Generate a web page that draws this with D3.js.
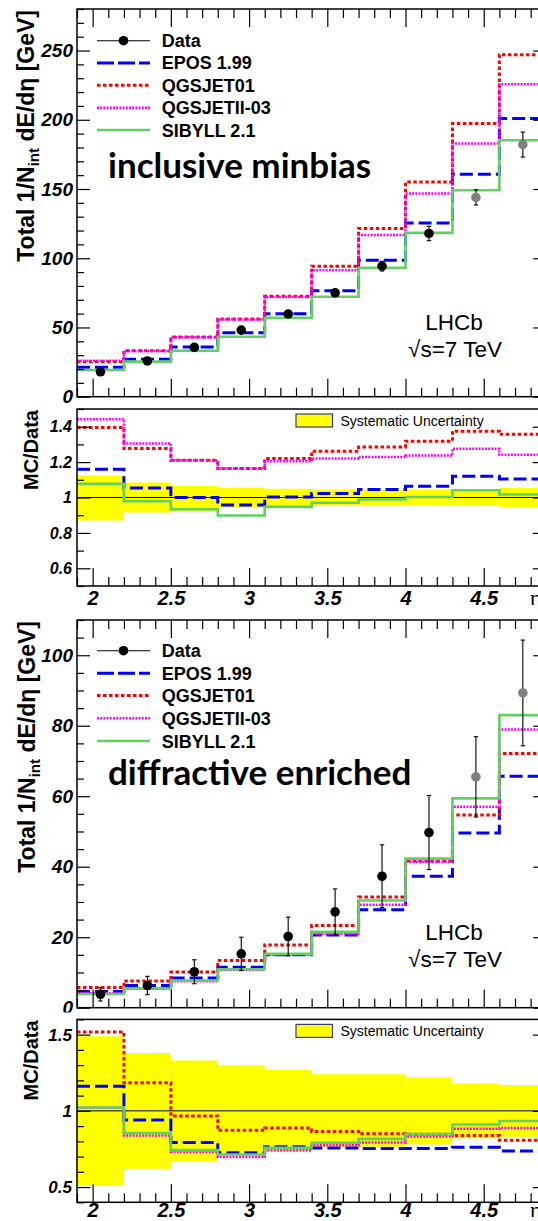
<!DOCTYPE html>
<html>
<head>
<meta charset="utf-8">
<script src="https://cdn.jsdelivr.net/npm/d3@7"></script>
<style>
  body { margin: 0; background: #fff; }
  svg { display: block; }
</style>
</head>
<body>
<svg id="chart" width="538" height="1221"></svg>
<script>
// ---- pseudorapidity binning ----
const binEdges = [1.9, 2.2, 2.5, 2.8, 3.1, 3.4, 3.7, 4.0, 4.3, 4.6, 4.9];
const binCentres = [2.05, 2.35, 2.65, 2.95, 3.25, 3.55, 3.85, 4.15, 4.45, 4.75];

// ---- inclusive minimum bias: energy flow [GeV] ----
const incData    = [18.0, 25.8, 35.6, 48.1, 59.7, 75.0, 94.3, 117.9, 143.9, 182.1];
const incDataErr = [1.2, 1.4, 1.7, 2.0, 2.2, 2.6, 3.5, 5.2, 5.5, 9.0];
const incEPOS    = [21.2, 27.0, 35.9, 46.2, 59.9, 76.5, 98.6, 125.5, 160.7, 200.9];
const incQGS01   = [25.3, 33.2, 43.1, 56.1, 72.5, 94.3, 121.5, 155.1, 197.3, 247.0];
const incQGSII   = [26.0, 33.0, 43.0, 55.8, 72.0, 91.4, 116.7, 146.8, 182.8, 225.6];
const incSIBYLL  = [19.3, 25.3, 33.2, 43.3, 57.0, 72.2, 93.1, 118.3, 149.1, 185.2];

// ---- inclusive minimum bias: MC/Data ----
const incRatioEPOS   = [1.160, 1.053, 1.000, 0.957, 1.003, 1.023, 1.045, 1.064, 1.120, 1.105];
const incRatioQGS01  = [1.395, 1.277, 1.210, 1.164, 1.220, 1.262, 1.286, 1.318, 1.375, 1.358];
const incRatioQGSII  = [1.442, 1.305, 1.210, 1.164, 1.205, 1.220, 1.229, 1.237, 1.275, 1.241];
const incRatioSIBYLL = [1.077, 0.979, 0.934, 0.898, 0.947, 0.970, 0.989, 1.003, 1.041, 1.017];
const incSystLo      = [0.870, 0.915, 0.920, 0.940, 0.950, 0.955, 0.955, 0.955, 0.955, 0.945];
const incSystHi      = [1.125, 1.085, 1.065, 1.055, 1.050, 1.045, 1.045, 1.045, 1.045, 1.055];

// ---- diffractive enriched: energy flow [GeV] ----
const difData    = [3.8, 6.3, 10.2, 15.3, 20.2, 27.2, 37.3, 49.7, 65.5, 89.3];
const difDataErr = [1.9, 2.6, 3.4, 4.7, 5.5, 6.5, 8.9, 10.5, 11.4, 15.0];
const difEPOS    = [4.6, 6.3, 8.4, 11.5, 15.0, 20.6, 27.8, 37.3, 49.6, 65.7];
const difQGS01   = [5.7, 7.6, 10.1, 13.4, 17.8, 23.3, 31.4, 41.6, 54.7, 72.1];
const difQGSII   = [4.1, 5.4, 7.5, 10.7, 15.0, 21.0, 29.2, 41.4, 57.0, 78.9];
const difSIBYLL  = [3.9, 5.5, 7.7, 10.9, 15.3, 21.5, 30.4, 42.3, 59.4, 83.0];

// ---- diffractive enriched: MC/Data ----
const difRatioEPOS   = [1.162, 0.940, 0.793, 0.725, 0.764, 0.757, 0.753, 0.753, 0.761, 0.737];
const difRatioQGS01  = [1.517, 1.185, 0.967, 0.872, 0.888, 0.865, 0.849, 0.847, 0.838, 0.807];
const difRatioQGSII  = [1.020, 0.838, 0.730, 0.697, 0.742, 0.775, 0.793, 0.832, 0.883, 0.888];
const difRatioSIBYLL = [1.022, 0.854, 0.742, 0.714, 0.757, 0.791, 0.816, 0.847, 0.910, 0.933];
const difSystLo      = [0.510, 0.620, 0.670, 0.700, 0.730, 0.760, 0.760, 0.780, 0.820, 0.830];
const difSystHi      = [1.490, 1.380, 1.330, 1.300, 1.270, 1.240, 1.240, 1.220, 1.180, 1.170];

// ---- legend / axis text ----
const modelNames = ["EPOS 1.99", "QGSJET01", "QGSJETII-03", "SIBYLL 2.1"];
const xTickLabels = [2, 2.5, 3, 3.5, 4, 4.5];
const incYTicks = [0, 50, 100, 150, 200, 250];
const difYTicks = [0, 20, 40, 60, 80, 100];
const incRatioTicks = [0.6, 0.8, 1, 1.2, 1.4];
const difRatioTicks = [0.5, 1, 1.5];

// ---------------------------------------------------------------
const FONT = "'Liberation Sans', Arial, Helvetica, sans-serif";
const svg = d3.select("#chart");
const x = d3.scaleLinear().domain([1.9, 4.9]).range([77, 546.3]);
const X0 = x.range()[0], X1 = x.range()[1];

const styles = [
  { color: "#0000ff", width: 3,   dash: "13,5" },
  { color: "#ff0000", width: 3,   dash: "3.5,2.5" },
  { color: "#ff00ff", width: 2.5, dash: "2,1.2" },
  { color: "#62d162", width: 2.6, dash: null }
];

const xMinor = d3.range(19, 50).map(d => d / 10).filter(v => !xTickLabels.some(m => Math.abs(m - v) < 1e-6));

function styleAxis(g) {
  g.select(".domain").remove();
  g.selectAll(".tick line").attr("stroke", "#000").attr("stroke-width", 1.2);
  return g;
}

function yAxes(g, y, majors, minors, fontSize, majLen, minLen, pad) {
  const fmt = d3.format("~g");
  const left = g.append("g").attr("transform", `translate(${X0},0)`)
    .call(d3.axisLeft(y).tickValues(majors).tickSizeInner(-majLen).tickSizeOuter(0).tickPadding(pad).tickFormat(fmt));
  styleAxis(left);
  left.attr("font-family", FONT).attr("font-size", fontSize);
  left.selectAll("text").attr("font-weight", "bold").attr("font-style", "italic").attr("fill", "#000");
  styleAxis(g.append("g").attr("transform", `translate(${X0},0)`)
    .call(d3.axisLeft(y).tickValues(minors).tickSizeInner(-minLen).tickSizeOuter(0).tickFormat("")));
  styleAxis(g.append("g").attr("transform", `translate(${X1},0)`)
    .call(d3.axisRight(y).tickValues(majors).tickSizeInner(-majLen).tickSizeOuter(0).tickFormat("")));
  styleAxis(g.append("g").attr("transform", `translate(${X1},0)`)
    .call(d3.axisRight(y).tickValues(minors).tickSizeInner(-minLen).tickSizeOuter(0).tickFormat("")));
}

function xAxes(g, top, bottom, withTop, withLabels, labelBaseline) {
  const bot = g.append("g").attr("transform", `translate(0,${bottom})`)
    .call(d3.axisBottom(x).tickValues(xTickLabels).tickSizeInner(-18).tickSizeOuter(0)
      .tickFormat(withLabels ? d3.format("~g") : ""));
  styleAxis(bot);
  if (withLabels) {
    bot.attr("font-family", FONT).attr("font-size", 20);
    bot.selectAll("text").attr("font-weight", "bold").attr("font-style", "italic")
      .attr("fill", "#000").attr("dy", null).attr("y", labelBaseline - bottom);
  }
  styleAxis(g.append("g").attr("transform", `translate(0,${bottom})`)
    .call(d3.axisBottom(x).tickValues(xMinor).tickSizeInner(-9).tickSizeOuter(0).tickFormat("")));
  if (withTop) {
    styleAxis(g.append("g").attr("transform", `translate(0,${top})`)
      .call(d3.axisTop(x).tickValues(xTickLabels).tickSizeInner(-18).tickSizeOuter(0).tickFormat("")));
    styleAxis(g.append("g").attr("transform", `translate(0,${top})`)
      .call(d3.axisTop(x).tickValues(xMinor).tickSizeInner(-9).tickSizeOuter(0).tickFormat("")));
  }
}

function frame(g, top, bottom) {
  g.append("rect").attr("x", X0).attr("y", top).attr("width", X1 - X0).attr("height", bottom - top)
    .attr("fill", "none").attr("stroke", "#000").attr("stroke-width", 1.5);
}

function stepPath(g, y, values, st) {
  const pts = values.map((v, i) => [binEdges[i], v]);
  pts.push([binEdges[binEdges.length - 1], values[values.length - 1]]);
  const line = d3.line().x(d => x(d[0])).y(d => y(d[1])).curve(d3.curveStepAfter);
  const p = g.append("path").attr("d", line(pts)).attr("fill", "none")
    .attr("stroke", st.color).attr("stroke-width", st.width);
  if (st.dash) p.attr("stroke-dasharray", st.dash);
}

function band(g, y, lo, hi) {
  const area = d3.area().x(d => x(d[0])).y0(d => y(d[1])).y1(d => y(d[2])).curve(d3.curveStepAfter);
  const pts = lo.map((v, i) => [binEdges[i], v, hi[i]]);
  pts.push([binEdges[binEdges.length - 1], lo[lo.length - 1], hi[hi.length - 1]]);
  g.append("path").attr("d", area(pts)).attr("fill", "#ffff00").attr("stroke", "none");
}

function dataPoints(g, y, vals, errs) {
  vals.forEach((v, i) => {
    const cx = x(binCentres[i]);
    const yl = y(v - errs[i]), yh = y(v + errs[i]);
    g.append("line").attr("x1", cx).attr("x2", cx).attr("y1", yl).attr("y2", yh).attr("stroke", "#000").attr("stroke-width", 1.1);
    [yl, yh].forEach(yy => g.append("line").attr("x1", cx - 2.2).attr("x2", cx + 2.2).attr("y1", yy).attr("y2", yy)
      .attr("stroke", "#000").attr("stroke-width", 1.1));
    g.append("circle").attr("cx", cx).attr("cy", y(v)).attr("r", 4.8)
      .attr("fill", i >= 8 ? "#808080" : "#000");
  });
}

function legend(g, rowsY) {
  const lx0 = 97, lx1 = 150, tx = 161.7;
  g.append("line").attr("x1", lx0).attr("x2", lx1).attr("y1", rowsY[0]).attr("y2", rowsY[0]).attr("stroke", "#000").attr("stroke-width", 1.1);
  g.append("circle").attr("cx", (lx0 + lx1) / 2).attr("cy", rowsY[0]).attr("r", 4.8).attr("fill", "#000");
  const names = ["Data"].concat(modelNames);
  styles.forEach((st, i) => {
    const l = g.append("line").attr("x1", lx0).attr("x2", lx1).attr("y1", rowsY[i + 1]).attr("y2", rowsY[i + 1])
      .attr("stroke", st.color).attr("stroke-width", st.width);
    if (st.dash) l.attr("stroke-dasharray", st.dash === "13,5" ? "17,4" : st.dash);
  });
  names.forEach((n, i) => {
    g.append("text").attr("x", tx).attr("y", rowsY[i] + 6.5).text(n)
      .attr("font-family", FONT).attr("font-size", 18).attr("font-weight", "bold");
  });
}

function yTitleMain(g, xb, yTop) {
  const t = g.append("text").attr("transform", `translate(${xb},${yTop}) rotate(-90)`)
    .attr("text-anchor", "end").attr("font-family", FONT).attr("font-size", 23).attr("font-weight", "bold");
  t.append("tspan").text("Total 1/N");
  t.append("tspan").text("int").attr("font-size", 15).attr("dy", 5);
  t.append("tspan").text(" dE/d\u03b7 [GeV]").attr("dy", -5);
}

function yTitleRatio(g, xb, yTop) {
  g.append("text").attr("transform", `translate(${xb},${yTop}) rotate(-90)`)
    .attr("text-anchor", "end").attr("font-family", FONT).attr("font-size", 20).attr("font-weight", "bold")
    .text("MC/Data");
}

function lhcbLabel(g, y0) {
  g.append("text").attr("x", 454).attr("y", y0).attr("text-anchor", "middle")
    .attr("font-family", FONT).attr("font-size", 22.5).text("LHCb");
  g.append("text").attr("x", 455).attr("y", y0 + 27).attr("text-anchor", "middle")
    .attr("font-family", FONT).attr("font-size", 22.5).text("\u221as=7 TeV");
}

function systLegend(g, boxY) {
  g.append("rect").attr("x", 296).attr("y", boxY).attr("width", 36.5).attr("height", 13)
    .attr("fill", "#ffff00").attr("stroke", "#3a3a7a").attr("stroke-width", 1.2);
  g.append("text").attr("x", 340.5).attr("y", boxY + 11.5).attr("font-family", FONT).attr("font-size", 14)
    .text("Systematic Uncertainty");
}

function etaTitle(g, baseline) {
  g.append("text").attr("x", 530).attr("y", baseline).attr("font-family", "'Liberation Serif', serif")
    .attr("font-size", 22).text("\u03b7");
}

function mainPanel(cfg) {
  const g = svg.append("g");
  const y = d3.scaleLinear().domain(cfg.domain).range([cfg.bottom, cfg.top]);
  const minors = d3.range(cfg.domain[0], cfg.domain[1] + 1e-9, cfg.minorStep).filter(v => !cfg.majors.includes(v));
  cfg.models.forEach((vals, i) => stepPath(g, y, vals, styles[i]));
  dataPoints(g, y, cfg.data, cfg.err);
  xAxes(g, cfg.top, cfg.bottom, true, false);
  yAxes(g, y, cfg.majors, minors, 19, 13, 7, 4);
  frame(g, cfg.top, cfg.bottom);
  legend(g, cfg.legendRows);
  g.append("text").attr("x", cfg.tagX).attr("y", cfg.tagY).text(cfg.tag)
    .attr("font-family", "Lato, 'Open Sans', sans-serif").attr("font-weight", "bold").attr("font-size", 35);
  lhcbLabel(g, cfg.lhcbY);
  yTitleMain(g, cfg.titleX, cfg.top + 1);
}

function ratioPanel(cfg) {
  const g = svg.append("g");
  g.append("rect").attr("x", 0).attr("y", cfg.bgTop).attr("width", 538).attr("height", cfg.bgBottom - cfg.bgTop).attr("fill", "#fff");
  const y = d3.scaleLinear().domain(cfg.domain).range([cfg.bottom, cfg.top]);
  const minors = d3.range(Math.round(cfg.domain[0] * 10), Math.round(cfg.domain[1] * 10) + 1)
    .map(d => d / 10).filter(v => !cfg.majors.some(m => Math.abs(m - v) < 1e-6));
  band(g, y, cfg.lo, cfg.hi);
  g.append("line").attr("x1", X0).attr("x2", X1).attr("y1", y(1)).attr("y2", y(1)).attr("stroke", "#000").attr("stroke-width", 1);
  cfg.models.forEach((vals, i) => stepPath(g, y, vals, styles[i]));
  xAxes(g, cfg.top, cfg.bottom, false, true, cfg.labelBaseline);
  yAxes(g, y, cfg.majors, minors, cfg.fontSize, 13.5, 7, 5);
  frame(g, cfg.top, cfg.bottom);
  systLegend(g, cfg.top + 5);
  yTitleRatio(g, 37.7, cfg.top + 1);
  etaTitle(g, cfg.labelBaseline);
}

// inclusive minimum bias
mainPanel({
  top: 9, bottom: 396.7, domain: [0, 280], majors: incYTicks, minorStep: 10,
  models: [incEPOS, incQGS01, incQGSII, incSIBYLL], data: incData, err: incDataErr,
  legendRows: [40.7, 62.9, 85.3, 107.7, 130], tag: "inclusive minbias", tagX: 108, tagY: 178,
  lhcbY: 330, titleX: 34
});
ratioPanel({
  bgTop: 403, bgBottom: 612, top: 409, bottom: 586, domain: [0.5, 1.5], majors: incRatioTicks,
  lo: incSystLo, hi: incSystHi, models: [incRatioEPOS, incRatioQGS01, incRatioQGSII, incRatioSIBYLL],
  labelBaseline: 605, fontSize: 16
});

// diffractive enriched
mainPanel({
  top: 620, bottom: 1007.7, domain: [0, 110], majors: difYTicks, minorStep: 5,
  models: [difEPOS, difQGS01, difQGSII, difSIBYLL], data: difData, err: difDataErr,
  legendRows: [650.7, 673.3, 695.5, 718.3, 741], tag: "diffractive enriched", tagX: 108, tagY: 785,
  lhcbY: 940, titleX: 35
});
ratioPanel({
  bgTop: 1012.5, bgBottom: 1221, top: 1019.4, bottom: 1202.3, domain: [0.4, 1.6], majors: difRatioTicks,
  lo: difSystLo, hi: difSystHi, models: [difRatioEPOS, difRatioQGS01, difRatioQGSII, difRatioSIBYLL],
  labelBaseline: 1216.5, fontSize: 17
});
</script>
</body>
</html>
